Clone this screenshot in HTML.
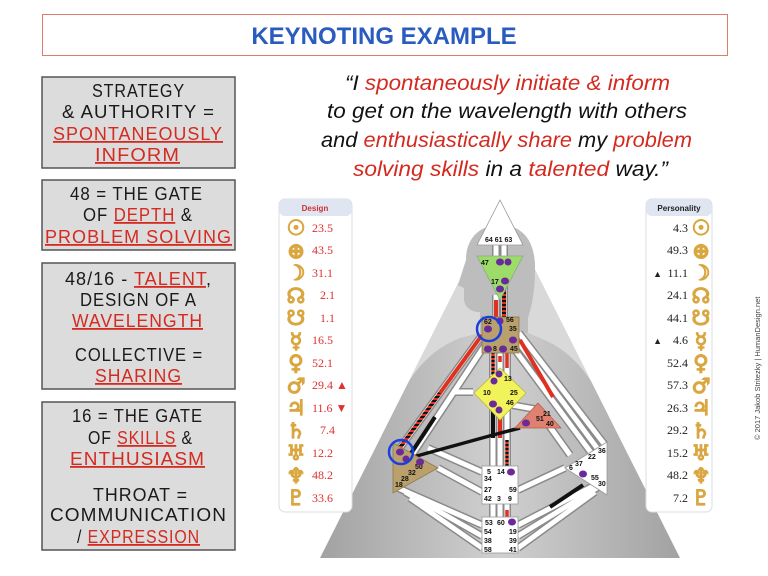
<!DOCTYPE html>
<html><head><meta charset="utf-8"><style>
html,body{margin:0;padding:0;background:#fff;}
svg{display:block}
.l{font-family:"Liberation Sans",sans-serif;font-size:18px;fill:#1a1a1a;letter-spacing:1px}
.r{fill:#d42a20;text-decoration:underline}
.q{font-family:"Liberation Sans",sans-serif;font-style:italic;font-size:21px;fill:#111}
.qr{fill:#d42a20}
.g{font-family:"Liberation Sans",sans-serif;font-size:7px;font-weight:bold;fill:#111}
.dv{font-family:"Liberation Serif",serif;font-size:12px;fill:#e03030}
.pv{font-family:"Liberation Serif",serif;font-size:12px;fill:#222}
.sy{font-family:"DejaVu Sans",sans-serif;font-size:21px;fill:#d9a640;stroke:#d9a640;stroke-width:1.2;font-weight:bold}
</style></head><body>
<svg width="768" height="576" viewBox="0 0 768 576" xmlns="http://www.w3.org/2000/svg">
<defs>
<linearGradient id="sp" x1="0" y1="0" x2="1" y2="0">
<stop offset="0" stop-color="#a2a2a2"/><stop offset="0.5" stop-color="#d0d0d0"/><stop offset="1" stop-color="#a2a2a2"/></linearGradient>
<pattern id="st" width="4" height="4" patternUnits="userSpaceOnUse">
<rect width="4" height="4" fill="#e03020"/><rect width="4" height="2" fill="#111"/></pattern>
</defs>
<rect x="42.5" y="14.5" width="685" height="41" fill="#fff" stroke="#e07a6a" stroke-width="1"/>
<text x="384" y="44" text-anchor="middle" font-family="Liberation Sans, sans-serif" font-size="24" font-weight="bold" fill="#2a5cc0">KEYNOTING EXAMPLE</text>

<g stroke="#555" stroke-width="1.5" fill="#dcdcdc">
<rect x="42" y="77" width="193" height="91"/>
<rect x="42" y="180" width="193" height="70"/>
<rect x="42" y="263" width="193" height="126"/>
<rect x="42" y="402" width="193" height="148"/>
</g>
<text class="l" x="92" y="97" textLength="93" lengthAdjust="spacingAndGlyphs">STRATEGY</text>
<text class="l" x="62" y="118" textLength="153" lengthAdjust="spacingAndGlyphs">&amp; AUTHORITY =</text>
<text class="l" x="53" y="140" textLength="170" lengthAdjust="spacingAndGlyphs"><tspan class="r">SPONTANEOUSLY</tspan></text>
<text class="l" x="95" y="161" textLength="85" lengthAdjust="spacingAndGlyphs"><tspan class="r">INFORM</tspan></text>

<text class="l" x="70" y="200" textLength="133" lengthAdjust="spacingAndGlyphs">48 = THE GATE</text>
<text class="l" x="83" y="221" textLength="110" lengthAdjust="spacingAndGlyphs">OF <tspan class="r">DEPTH</tspan> &amp;</text>
<text class="l" x="45" y="243" textLength="187" lengthAdjust="spacingAndGlyphs"><tspan class="r">PROBLEM SOLVING</tspan></text>

<text class="l" x="65" y="285" textLength="147" lengthAdjust="spacingAndGlyphs">48/16 - <tspan class="r">TALENT</tspan>,</text>
<text class="l" x="80" y="306" textLength="117" lengthAdjust="spacingAndGlyphs">DESIGN OF A</text>
<text class="l" x="72" y="327" textLength="131" lengthAdjust="spacingAndGlyphs"><tspan class="r">WAVELENGTH</tspan></text>
<text class="l" x="75" y="361" textLength="128" lengthAdjust="spacingAndGlyphs">COLLECTIVE =</text>
<text class="l" x="95" y="382" textLength="87" lengthAdjust="spacingAndGlyphs"><tspan class="r">SHARING</tspan></text>

<text class="l" x="72" y="422" textLength="131" lengthAdjust="spacingAndGlyphs">16 = THE GATE</text>
<text class="l" x="88" y="444" textLength="105" lengthAdjust="spacingAndGlyphs">OF <tspan class="r">SKILLS</tspan> &amp;</text>
<text class="l" x="70" y="465" textLength="135" lengthAdjust="spacingAndGlyphs"><tspan class="r">ENTHUSIASM</tspan></text>
<text class="l" x="93" y="501" textLength="95" lengthAdjust="spacingAndGlyphs">THROAT =</text>
<text class="l" x="50" y="521" textLength="177" lengthAdjust="spacingAndGlyphs">COMMUNICATION</text>
<text class="l" x="77" y="543" textLength="123" lengthAdjust="spacingAndGlyphs">/ <tspan class="r">EXPRESSION</tspan></text>

<text class="q" x="345" y="90" textLength="325" lengthAdjust="spacingAndGlyphs">“I <tspan class="qr">spontaneously initiate &amp; inform</tspan></text>
<text class="q" x="327" y="118" textLength="360" lengthAdjust="spacingAndGlyphs">to get on the wavelength with others</text>
<text class="q" x="321" y="147" textLength="371" lengthAdjust="spacingAndGlyphs">and <tspan class="qr">enthusiastically share</tspan> my <tspan class="qr">problem</tspan></text>
<text class="q" x="353" y="176" textLength="315" lengthAdjust="spacingAndGlyphs"><tspan class="qr">solving skills</tspan> in a <tspan class="qr">talented</tspan> way.”</text>

<text transform="translate(760,440) rotate(-90)" font-family="Liberation Sans, sans-serif" font-size="7.5" fill="#444">© 2017 Jakob Stritezky | HumanDesign.net</text>

<polygon points="500,200 680,558 320,558" fill="url(#sp)"/>
<path d="M500,200 L592,383 C578,360 560,346 540,338 L528,333 L528,318 C532,305 535,290 535,268 C535,240 522,225 500,225 C478,225 466,240 466,260 L458,285 L464,288 L464,300 C466,310 474,312 480,312 L480,333 L460,338 C440,346 422,360 408,383 Z" fill="#d9d9d9"/>
<path d="M500,225 C522,225 535,240 535,268 C535,290 532,305 528,318 L528,333 L480,333 L480,312 C474,312 466,310 464,300 L464,288 L458,285 L466,260 C466,240 478,225 500,225Z" fill="#bdbdbd"/>

<rect x="279" y="199" width="73" height="313" rx="6" fill="#fff" stroke="#d8dde6"/>
<rect x="279" y="199" width="73" height="17" rx="6" fill="#dfe6f2"/>
<text x="315" y="211" text-anchor="middle" font-family="Liberation Sans, sans-serif" font-size="8" font-weight="bold" fill="#d03030">Design</text>
<rect x="646" y="199" width="66" height="313" rx="6" fill="#fff" stroke="#d8dde6"/>
<rect x="646" y="199" width="66" height="17" rx="6" fill="#dfe6f2"/>
<text x="679" y="211" text-anchor="middle" font-family="Liberation Sans, sans-serif" font-size="8" font-weight="bold" fill="#222">Personality</text>
<g class="sy" text-anchor="middle">
<text x="296" y="235">☉</text><text x="296" y="258">⊕</text><text x="296" y="280">☽</text><text x="296" y="303">☊</text><text x="296" y="325">☋</text><text x="296" y="348">☿</text><text x="296" y="370">♀</text><text x="296" y="393">♂</text><text x="296" y="415">♃</text><text x="296" y="438">♄</text><text x="296" y="460">♅</text><text x="296" y="483">♆</text><text x="296" y="505">♇</text>
<text x="701" y="235">☉</text><text x="701" y="258">⊕</text><text x="701" y="280">☽</text><text x="701" y="303">☊</text><text x="701" y="325">☋</text><text x="701" y="348">☿</text><text x="701" y="370">♀</text><text x="701" y="393">♂</text><text x="701" y="415">♃</text><text x="701" y="438">♄</text><text x="701" y="460">♅</text><text x="701" y="483">♆</text><text x="701" y="505">♇</text>
</g>
<g class="dv">
<text x="312" y="232">23.5</text><text x="312" y="254">43.5</text><text x="312" y="277">31.1</text><text x="320" y="299">2.1</text><text x="320" y="322">1.1</text><text x="312" y="344">16.5</text><text x="312" y="367">52.1</text><text x="312" y="389">29.4 ▲</text><text x="312" y="412">11.6 ▼</text><text x="320" y="434">7.4</text><text x="312" y="457">12.2</text><text x="312" y="479">48.2</text><text x="312" y="502">33.6</text>
</g>
<g class="pv" text-anchor="end">
<text x="688" y="232">4.3</text><text x="688" y="254">49.3</text><text x="688" y="277">11.1</text><text x="688" y="299">24.1</text><text x="688" y="322">44.1</text><text x="688" y="344">4.6</text><text x="688" y="367">52.4</text><text x="688" y="389">57.3</text><text x="688" y="412">26.3</text><text x="688" y="434">29.2</text><text x="688" y="457">15.2</text><text x="688" y="479">48.2</text><text x="688" y="502">7.2</text>
<text x="662" y="277" font-size="9">▲</text><text x="662" y="344" font-size="9">▲</text>
</g>

<g fill="none" stroke-linecap="butt">
<g stroke="#8a8a8a" stroke-width="8">
<path d="M496,245V256M504,245V256M496,295V320M504,285V320M493,350V380M500,350V380M507,350V380M493,405V468M500,405V468M507,405V468M493,500V520M500,500V520M507,500V520"/>
<path d="M482,335L397,452M485,345L412,455M473,392H452"/>
<path d="M519,333L605,445M519,343L600,452M515,350L595,458"/>
<path d="M428,448L482,472M438,468L482,492M398,488L482,525M405,492L482,536M410,498L482,548"/>
<path d="M605,480L518,525M600,486L518,536M595,492L518,548M565,468L518,490"/>
<path d="M512,405L540,410M545,420L570,455"/>
</g>
<g stroke="#fff" stroke-width="5">
<path d="M496,245V256M504,245V256M496,295V320M504,285V320M493,350V380M500,350V380M507,350V380M493,405V468M500,405V468M507,405V468M493,500V520M500,500V520M507,500V520"/>
<path d="M482,335L397,452M485,345L412,455M473,392H452"/>
<path d="M519,333L605,445M519,343L600,452M515,350L595,458"/>
<path d="M428,448L482,472M438,468L482,492M398,488L482,525M405,492L482,536M410,498L482,548"/>
<path d="M605,480L518,525M600,486L518,536M595,492L518,548M565,468L518,490"/>
<path d="M512,405L540,410M545,420L570,455"/>
</g>
<path d="M496,300V320" stroke="#e03020" stroke-width="4"/>
<path d="M504,285V318" stroke="url(#st)" stroke-width="4"/>
<path d="M482,335L440,393" stroke="#e03020" stroke-width="4"/>
<path d="M440,393L399,449" stroke="url(#st)" stroke-width="4"/>
<path d="M435,417L410,455" stroke="#111" stroke-width="4"/>
<path d="M493,353V375" stroke="url(#st)" stroke-width="3.5"/>
<path d="M500,356V362M507,353V368" stroke="#e03020" stroke-width="3.5"/>
<path d="M493,410V438" stroke="#111" stroke-width="4"/>
<path d="M500,410V438" stroke="#e03020" stroke-width="4"/>
<path d="M507,440V466" stroke="url(#st)" stroke-width="3.5"/>
<path d="M507,510V518" stroke="#e03020" stroke-width="3.5"/>
<path d="M520,340L553,397" stroke="#e03020" stroke-width="4"/>
<path d="M413,457L493,435L520,428" stroke="#111" stroke-width="3.5"/>
<path d="M550,507L583,485" stroke="#111" stroke-width="4"/>
</g>

<polygon points="500,200 523,245 477,245" fill="#fff" stroke="#999" stroke-width="0.8"/>
<polygon points="477,256 523,256 500,300" fill="#9edc6a" stroke="#8a8" stroke-width="0.8"/>
<rect x="482" y="317" width="37" height="36" fill="#b9a06c" stroke="#8a7a50" stroke-width="0.8"/>
<polygon points="500,368 526,393 500,420 474,393" fill="#f2f25a" stroke="#b8b840" stroke-width="0.8"/>
<polygon points="538,403 561,428 515,428" fill="#e08070" stroke="#b06050" stroke-width="0.8"/>
<polygon points="393,443 438,468 393,493" fill="#b9a06c" stroke="#8a7a50" stroke-width="0.8"/>
<polygon points="607,442 607,495 565,468" fill="#fff" stroke="#999" stroke-width="0.8"/>
<rect x="482" y="466" width="36" height="38" fill="#fff" stroke="#999" stroke-width="0.8"/>
<rect x="482" y="517" width="36" height="36" fill="#fff" stroke="#999" stroke-width="0.8"/>

<g class="g">
<text x="485" y="242">64 61 63</text>
<text x="481" y="265">47</text>
<text x="491" y="284">17</text>
<text x="484" y="324">62</text><text x="506" y="322">56</text><text x="509" y="331">35</text>
<text x="493" y="351">8</text><text x="510" y="351">45</text>
<text x="504" y="381">13</text><text x="483" y="395">10</text><text x="510" y="395">25</text><text x="506" y="405">46</text>
<text x="543" y="416">21</text><text x="536" y="421">51</text><text x="546" y="426">40</text>
<text x="415" y="469">50</text><text x="408" y="475">32</text><text x="401" y="481">28</text><text x="395" y="487">18</text>
<text x="598" y="453">36</text><text x="588" y="459">22</text><text x="575" y="466">37</text><text x="569" y="470">6</text><text x="591" y="480">55</text><text x="598" y="486">30</text>
<text x="487" y="474">5</text><text x="497" y="474">14</text><text x="484" y="481">34</text><text x="484" y="492">27</text><text x="509" y="492">59</text><text x="484" y="501">42</text><text x="497" y="501">3</text><text x="508" y="501">9</text>
<text x="485" y="525">53</text><text x="497" y="525">60</text><text x="484" y="534">54</text><text x="509" y="534">19</text><text x="484" y="543">38</text><text x="509" y="543">39</text><text x="484" y="552">58</text><text x="509" y="552">41</text>
</g>
<g fill="#6a2a9a">
<ellipse cx="500" cy="262" rx="4" ry="3.5"/><ellipse cx="508" cy="262" rx="3.5" ry="3.5"/>
<ellipse cx="505" cy="281" rx="4" ry="3.5"/><ellipse cx="500" cy="289" rx="4" ry="3.5"/>
<ellipse cx="500" cy="321" rx="3.5" ry="3.5"/><ellipse cx="488" cy="329" rx="4" ry="3.5"/>
<ellipse cx="513" cy="340" rx="4" ry="3.5"/><ellipse cx="488" cy="349" rx="4" ry="3.5"/><ellipse cx="503" cy="349" rx="4" ry="3.5"/>
<ellipse cx="499" cy="374" rx="3.5" ry="3.5"/><ellipse cx="494" cy="381" rx="3.5" ry="3.5"/>
<ellipse cx="493" cy="404" rx="4" ry="3.5"/><ellipse cx="499" cy="410" rx="3.5" ry="3.5"/>
<ellipse cx="526" cy="423" rx="4" ry="3.5"/>
<ellipse cx="400" cy="452" rx="4" ry="3.5"/><ellipse cx="406" cy="459" rx="3.5" ry="3.5"/><ellipse cx="420" cy="462" rx="4" ry="3.5"/>
<ellipse cx="511" cy="472" rx="4" ry="3.5"/><ellipse cx="583" cy="474" rx="4" ry="3.5"/><ellipse cx="512" cy="522" rx="4" ry="3.5"/>
</g>
<circle cx="489" cy="329" r="12" fill="none" stroke="#1a3ee0" stroke-width="2.5"/>
<circle cx="401" cy="452" r="12" fill="none" stroke="#1a3ee0" stroke-width="2.5"/>
</svg>
</body></html>
